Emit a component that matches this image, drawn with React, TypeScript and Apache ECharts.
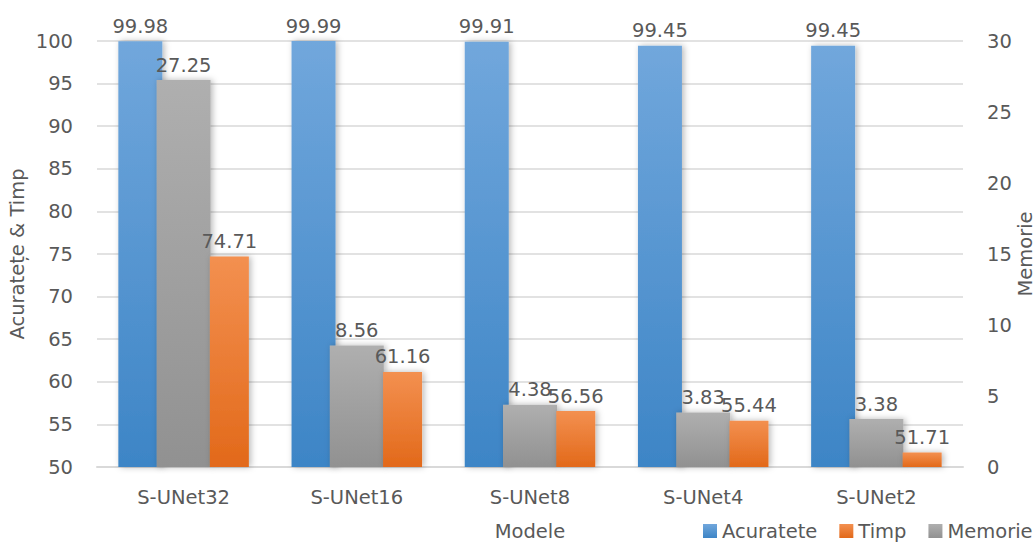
import React, { useEffect, useRef } from "react";
import * as echarts from "echarts";

const categories = ["S-UNet32", "S-UNet16", "S-UNet8", "S-UNet4", "S-UNet2"];
const acuratete = [99.98, 99.99, 99.91, 99.45, 99.45];
const timp = [74.71, 61.16, 56.56, 55.44, 51.71];
const memorie = [27.25, 8.56, 4.38, 3.83, 3.38];

const FONT = "'DejaVu Sans', 'Open Sans', sans-serif";
const TEXT = "#595959";
const FS = 19.5;

const grad = (top: string, bottom: string) =>
  new echarts.graphic.LinearGradient(0, 0, 0, 1, [
    { offset: 0, color: top },
    { offset: 1, color: bottom },
  ]);

const shadow = {
  shadowBlur: 6,
  shadowColor: "rgba(0,0,0,0.28)",
  shadowOffsetX: 2,
  shadowOffsetY: 0,
};

const label = {
  show: true,
  position: "top" as const,
  distance: 5,
  color: TEXT,
  fontSize: FS,
  fontFamily: FONT,
};

export default function App() {
  const ref = useRef<HTMLDivElement>(null);

  useEffect(() => {
    if (!ref.current) return;
    const chart = echarts.init(ref.current, undefined, { renderer: "svg" });
    chart.setOption({
      animation: false,
      backgroundColor: "#ffffff",
      textStyle: { fontFamily: FONT },
      grid: {
        left: 97,
        right: 72,
        top: 41,
        bottom: 76,
        containLabel: false,
        outerBoundsMode: "none",
      },
      legend: {
        left: 703,
        top: 521,
        padding: 0,
        itemWidth: 14,
        itemHeight: 14,
        itemGap: 22,
        icon: "rect",
        textStyle: { color: TEXT, fontSize: FS, fontFamily: FONT },
        data: ["Acuratete", "Timp", "Memorie"],
      },
      xAxis: [
        {
          type: "category",
          data: categories,
          name: "Modele",
          nameLocation: "middle",
          nameGap: 54,
          nameMoveOverlap: false,
          nameTextStyle: { color: TEXT, fontSize: FS, fontFamily: FONT },
          axisLine: { lineStyle: { color: "#D9D9D9", width: 2 } },
          axisTick: { show: false },
          axisLabel: { color: TEXT, fontSize: FS, fontFamily: FONT, margin: 20 },
        },
        {
          type: "category",
          data: categories,
          show: false,
          position: "bottom",
        },
      ],
      yAxis: [
        {
          type: "value",
          min: 50,
          max: 100,
          interval: 5,
          name: "Acuratețe & Timp",
          nameLocation: "middle",
          nameGap: 70,
          nameMoveOverlap: false,
          nameTextStyle: { color: TEXT, fontSize: FS, fontFamily: FONT },
          axisLine: { show: false },
          axisTick: { show: false },
          axisLabel: { color: TEXT, fontSize: FS, fontFamily: FONT, margin: 24 },
          splitLine: { lineStyle: { color: "#D9D9D9", width: 1.5 } },
        },
        {
          type: "value",
          min: 0,
          max: 30,
          interval: 5,
          name: "Memorie",
          nameLocation: "middle",
          nameGap: 52,
          nameMoveOverlap: false,
          nameTextStyle: { color: TEXT, fontSize: FS, fontFamily: FONT },
          axisLine: { show: false },
          axisTick: { show: false },
          axisLabel: { color: TEXT, fontSize: FS, fontFamily: FONT, margin: 24 },
          splitLine: { show: false },
        },
      ],
      series: [
        {
          name: "Acuratete",
          type: "bar",
          xAxisIndex: 0,
          yAxisIndex: 0,
          data: acuratete,
          barWidth: 44,
          barGap: "108%",
          itemStyle: { color: grad("#71A7DC", "#3D85C6"), ...shadow },
          color: "#4A8FD0",
          label,
          z: 2,
        },
        {
          name: "Timp",
          type: "bar",
          xAxisIndex: 0,
          yAxisIndex: 0,
          data: timp,
          barWidth: 39,
          barGap: "108%",
          itemStyle: { color: grad("#F39050", "#E2691A"), ...shadow },
          color: "#ED7D31",
          label,
          z: 4,
        },
        {
          name: "Memorie",
          type: "bar",
          xAxisIndex: 1,
          yAxisIndex: 1,
          data: memorie,
          barWidth: 54,
          itemStyle: { color: grad("#AFAFAF", "#919191"), ...shadow },
          color: "#A5A5A5",
          label,
          z: 3,
        },
      ],
    });
    return () => chart.dispose();
  }, []);

  return (
    <div
      ref={ref}
      style={{ position: "fixed", left: 0, top: 0, width: 1035, height: 543 }}
    />
  );
}
